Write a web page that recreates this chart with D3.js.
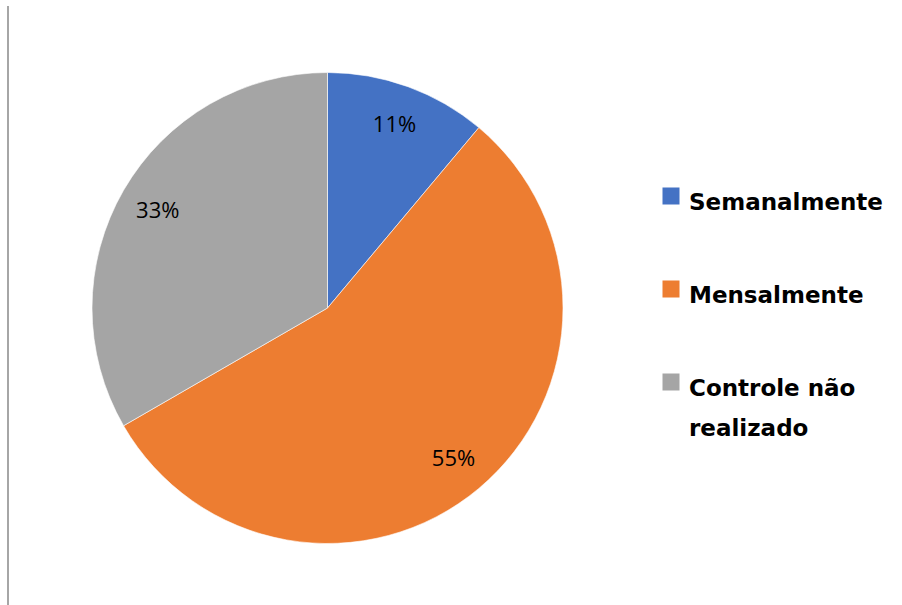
<!DOCTYPE html>
<html>
<head>
<meta charset="utf-8">
<script src="https://cdn.jsdelivr.net/npm/d3@7"></script>
<style>
  html, body { margin: 0; padding: 0; background: #fff; }
  svg { display: block; }
</style>
</head>
<body>
<svg id="chart" width="902" height="605"></svg>
<script>
// Frequência do controle
const categories = ["Semanalmente", "Mensalmente", "Controle não realizado"];
const legendLines = [["Semanalmente"], ["Mensalmente"], ["Controle não", "realizado"]];
const values = [11, 55, 33];
const valueLabels = ["11%", "55%", "33%"];
const colors = ["#4472C4", "#ED7D31", "#A5A5A5"];

const svg = d3.select("#chart");
const W = 902, H = 605;

// left border line
svg.append("rect")
  .attr("x", 7).attr("y", 6)
  .attr("width", 2).attr("height", H - 6)
  .attr("fill", "#a6a6a6");

const cx = 327.5, cy = 308, R = 235.5, labelR = 196;

const color = d3.scaleOrdinal().domain(categories).range(colors);

const pie = d3.pie().sort(null).value(d => d.value);
const data = categories.map((c, i) => ({ cat: c, value: values[i], label: valueLabels[i] }));
const arcs = pie(data);

const arc = d3.arc().innerRadius(0).outerRadius(R);
const labelArc = d3.arc().innerRadius(labelR).outerRadius(labelR);

const g = svg.append("g").attr("transform", `translate(${cx},${cy})`);

g.selectAll("path.slice")
  .data(arcs)
  .join("path")
  .attr("class", "slice")
  .attr("d", arc)
  .attr("fill", d => color(d.data.cat))
  .attr("stroke", "#ffffff")
  .attr("stroke-width", 0.6);

g.selectAll("text.val")
  .data(arcs)
  .join("text")
  .attr("class", "val")
  .attr("transform", d => `translate(${labelArc.centroid(d)})`)
  .attr("text-anchor", "middle")
  .attr("dy", "0.36em")
  .attr("font-family", "'Open Sans', sans-serif")
  .attr("font-size", 22)
  .attr("fill", "#000")
  .text(d => d.data.label);

// legend
const legend = svg.append("g").attr("transform", "translate(662.5,187.5)");
const rowStep = 93;
const rows = legend.selectAll("g.item")
  .data(categories)
  .join("g")
  .attr("class", "item")
  .attr("transform", (d, i) => `translate(0,${i * rowStep})`);

rows.append("rect")
  .attr("width", 17).attr("height", 17)
  .attr("fill", d => color(d));

rows.append("text")
  .attr("x", 26.5)
  .attr("y", 22.5)
  .attr("font-family", "'DejaVu Sans', sans-serif")
  .attr("font-weight", "bold")
  .attr("font-size", 23)
  .attr("fill", "#000")
  .selectAll("tspan")
  .data((d, i) => legendLines[i])
  .join("tspan")
  .attr("x", 26.5)
  .attr("dy", (d, j) => j === 0 ? 0 : 40)
  .text(d => d);
</script>
</body>
</html>
